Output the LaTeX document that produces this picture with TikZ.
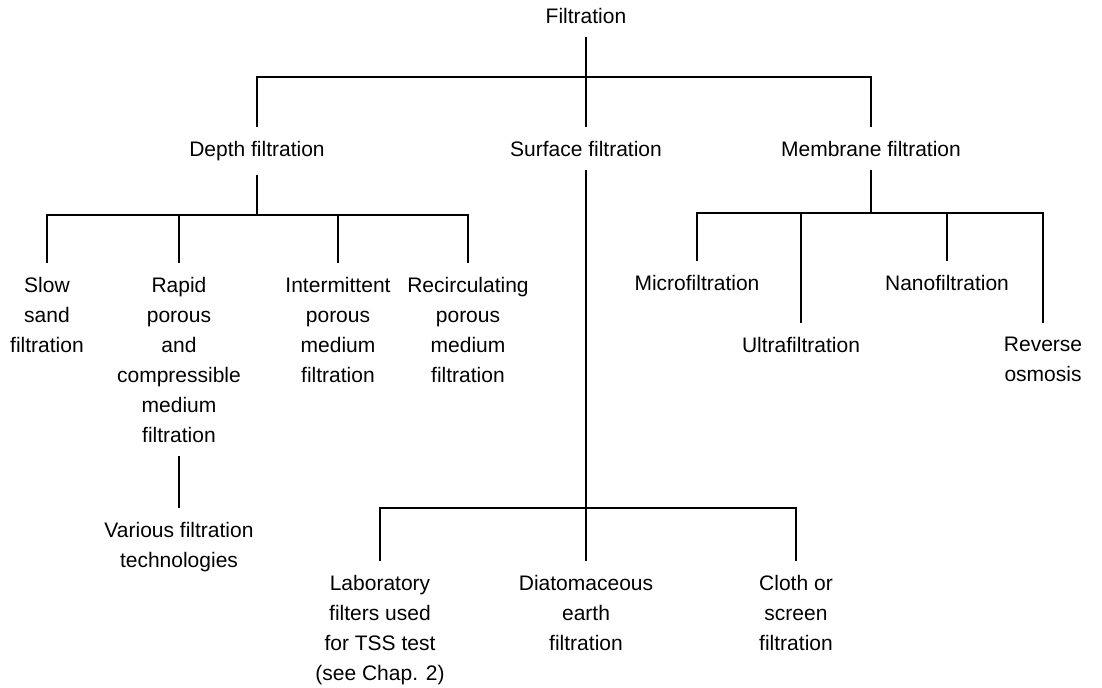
\documentclass[tikz,border=0pt]{standalone}
\usepackage{fontspec}
\setmainfont{Liberation Sans}

\begin{document}
\begin{tikzpicture}[x=0.5pt,y=-0.5pt,
  lbl/.style={align=center,inner sep=0pt,outer sep=7pt,anchor=north,font=\fontsize{10.5}{15}\selectfont},
  link/.style={line width=1.1pt}]
\useasboundingbox (0,0) rectangle (1102,687);

% top level
\node[lbl] (root) at (586,-6) {Filtration};
\node[lbl] (dep) at (257,127) {Depth filtration};
\node[lbl] (sur) at (586,127) {Surface filtration};
\node[lbl] (mem) at (871,127) {Membrane filtration};
\coordinate (bar1) at (586,77);
\draw[link] (root.south) -- (sur.north);
\draw[link] (dep.north) |- (bar1) -| (mem.north);

% depth filtration
\node[lbl] (slow) at (47,263) {Slow\\sand\\filtration};
\node[lbl] (rapid) at (179,263) {Rapid\\porous\\and\\compressible\\medium\\filtration};
\node[lbl] (inter) at (338,263) {Intermittent\\porous\\medium\\filtration};
\node[lbl] (recirc) at (468,263) {Recirculating\\porous\\medium\\filtration};
\node[lbl] (various) at (179,508) {Various filtration\\technologies};
\coordinate (bar2) at (257,215);
\draw[link] (dep.south) -- (bar2);
\draw[link] (slow.north) |- (bar2) -| (recirc.north);
\foreach \n in {rapid,inter} \draw[link] (\n.north) -- (\n.north |- bar2);
\draw[link] (rapid.south) -- (various.north);

% membrane filtration
\node[lbl] (micro) at (697,261) {Microfiltration};
\node[lbl] (ultra) at (801,323) {Ultrafiltration};
\node[lbl] (nano) at (947,261) {Nanofiltration};
\node[lbl] (rev) at (1043,323) {Reverse\\osmosis};
\coordinate (bar3) at (871,213);
\draw[link] (mem.south) -- (bar3);
\draw[link] (micro.north) |- (bar3) -| (rev.north);
\foreach \n in {ultra,nano} \draw[link] (\n.north) -- (\n.north |- bar3);

% surface filtration
\node[lbl] (lab) at (380,561) {Laboratory\\filters used\\for TSS test\\(see Chap. 2)};
\node[lbl] (diat) at (586,561) {Diatomaceous\\earth\\filtration};
\node[lbl] (cloth) at (796,561) {Cloth or\\screen\\filtration};
\coordinate (bar4) at (586,508);
\draw[link] (sur.south) -- (diat.north);
\draw[link] (lab.north) |- (bar4) -| (cloth.north);
\end{tikzpicture}
\end{document}
